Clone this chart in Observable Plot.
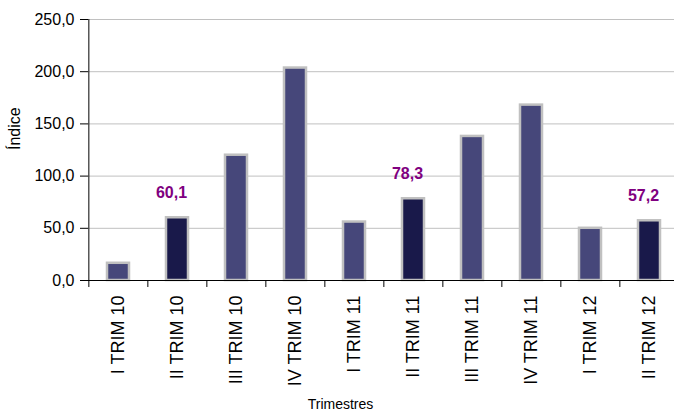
<!DOCTYPE html>
<html>
<head>
<meta charset="utf-8">
<script src="https://cdn.jsdelivr.net/npm/d3@7"></script>
<script src="https://cdn.jsdelivr.net/npm/@observablehq/plot@0.6"></script>
<style>
  html, body { margin: 0; padding: 0; background: #fff; }
  #chart { width: 674px; height: 413px; overflow: hidden; }
</style>
</head>
<body>
<div id="chart"></div>
<script>
const categories = ["I TRIM 10", "II TRIM 10", "III TRIM 10", "IV TRIM 10", "I TRIM 11", "II TRIM 11", "III TRIM 11", "IV TRIM 11", "I TRIM 12", "II TRIM 12"];
const values = [16.5, 60.1, 120.0, 203.5, 56.0, 78.3, 138.0, 168.0, 50.0, 57.2];
const highlighted = [false, true, false, false, false, true, false, false, false, true];
const yTicks = [0, 50, 100, 150, 200, 250];
const yLabel = "Índice";
const xLabel = "Trimestres";

const data = categories.map((c, i) => ({cat: c, value: values[i], hi: highlighted[i]}));
const fmt = d => d.toFixed(1).replace(".", ",");

const xRange = [87.5, 680.5];
const step = (xRange[1] - xRange[0]) / categories.length;

const chart = Plot.plot({
  width: 674,
  height: 413,
  marginLeft: 88,
  marginTop: 19,
  marginBottom: 133,
  marginRight: 0,
  style: {fontFamily: "'Liberation Sans', Arial, sans-serif", color: "#000", background: "#fff", overflow: "visible"},
  x: {domain: categories, range: xRange, paddingInner: 0.62, paddingOuter: 0.31},
  y: {domain: [0, 250]},
  marks: [
    Plot.gridY(yTicks, {stroke: "#c0c0c0", strokeOpacity: 1, strokeWidth: 1}),
    Plot.barY(data, {x: "cat", y: "value", fill: d => d.hi ? "#19194a" : "#46477a", stroke: "#c0c0c0", strokeWidth: 2.5, inset: 0}),
    Plot.ruleY([0], {stroke: "#000", strokeWidth: 1}),
    Plot.ruleX([categories[0]], {x: d => d, y1: 0, y2: 250, dx: -step / 2, stroke: "#000"}),
    Plot.ruleX(categories, {x: d => d, y1: 0, y2: -6.7, dx: -step / 2, stroke: "#000"}),
    Plot.axisY(yTicks, {tickFormat: fmt, tickSize: 8, tickPadding: 6, fontSize: 16, label: null, stroke: "#000"}),
    Plot.axisX({tickSize: 0, tickPadding: 15, tickRotate: -90, fontSize: 18, label: null}),
    Plot.text(data.filter(d => d.hi), {x: "cat", y: "value", text: d => fmt(d.value), dy: -25, dx: -6, fill: "#800080", fontWeight: "bold", fontSize: 16}),
    Plot.text([yLabel], {frameAnchor: "left", rotate: -90, dx: -74, fontSize: 16}),
    Plot.text([xLabel], {frameAnchor: "bottom", dy: 128, dx: -41, fontSize: 14})
  ]
});
document.getElementById("chart").appendChild(chart);
</script>
</body>
</html>
